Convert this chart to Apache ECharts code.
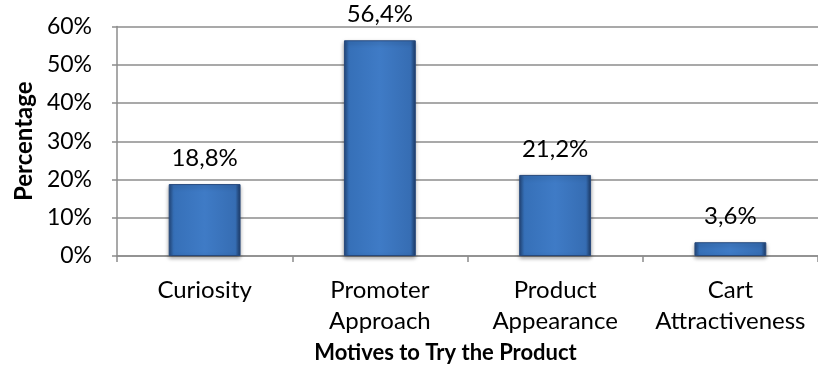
<!DOCTYPE html>
<html>
<head>
<meta charset="utf-8">
<script src="https://cdn.jsdelivr.net/npm/echarts@6/dist/echarts.min.js"></script>
<style>
html,body{margin:0;padding:0;background:#fff;}
#chart{width:818px;height:372px;}
</style>
</head>
<body>
<div id="chart"></div>
<script>
const categories = ['Curiosity', 'Promoter\nApproach', 'Product\nAppearance', 'Cart\nAttractiveness'];
const values = [18.8, 56.4, 21.2, 3.6];
const yTicks = [0, 10, 20, 30, 40, 50, 60];
const xTitle = 'Motives to Try the Product';
const yTitle = 'Percentage';

const FONT = 'Lato';
const chart = echarts.init(document.getElementById('chart'));
chart.setOption({
  animation: false,
  textStyle: { fontFamily: FONT },
  grid: { left: 117, top: 26.5, bottom: 116, right: -11, containLabel: false },
  xAxis: {
    type: 'category',
    data: categories,
    name: xTitle,
    nameLocation: 'middle',
    nameGap: 81,
    nameTextStyle: { fontFamily: FONT, fontWeight: 'bold', fontSize: 22, color: '#000', padding: [0, 44, 0, 0] },
    axisLine: { lineStyle: { color: '#8c8c8c', width: 1.5 } },
    axisTick: { show: true, length: 6, lineStyle: { color: '#8c8c8c', width: 1.5 } },
    axisLabel: { fontFamily: FONT, fontSize: 24, color: '#000', margin: 19, lineHeight: 31, interval: 0 }
  },
  yAxis: {
    type: 'value',
    min: yTicks[0],
    max: yTicks[yTicks.length - 1],
    interval: 10,
    name: yTitle,
    nameLocation: 'middle',
    nameGap: 81,
    nameRotate: 90,
    nameTextStyle: { fontFamily: FONT, fontWeight: 'bold', fontSize: 24, color: '#000' },
    axisLine: { show: true, lineStyle: { color: '#8c8c8c', width: 1.5 } },
    axisTick: { show: true, length: 5, lineStyle: { color: '#8c8c8c', width: 1.5 } },
    axisLabel: { fontFamily: FONT, fontSize: 23, color: '#000', margin: 25, formatter: '{value}%' },
    splitLine: { lineStyle: { color: '#8c8c8c', width: 1.5 } }
  },
  series: [{
    type: 'bar',
    data: values,
    barWidth: '41%',
    itemStyle: {
      color: new echarts.graphic.LinearGradient(0, 0, 1, 0, [
        { offset: 0, color: '#23477a' },
        { offset: 0.07, color: '#3670b8' },
        { offset: 0.5, color: '#3f7bc6' },
        { offset: 0.93, color: '#366db3' },
        { offset: 1, color: '#1c3a66' }
      ]),
      borderColor: '#27497c',
      borderWidth: 1,
      shadowColor: 'rgba(0,0,0,0.35)',
      shadowBlur: 4,
      shadowOffsetY: 2
    },
    label: {
      show: true,
      position: 'top',
      distance: 14,
      fontFamily: FONT,
      fontSize: 24,
      color: '#000',
      formatter: p => p.value.toFixed(1).replace('.', ',') + '%'
    }
  }]
});
</script>
</body>
</html>
